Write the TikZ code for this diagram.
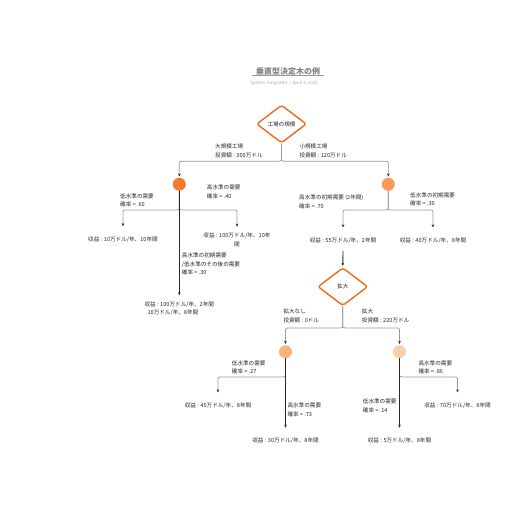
\documentclass[tikz,border=0pt]{standalone}
\usepackage{fontspec}
\setmainfont{Noto Sans CJK JP}
\usetikzlibrary{shapes.geometric,arrows.meta}
\definecolor{orangeline}{HTML}{F26A1B}
\definecolor{cA}{HTML}{F47A2F}
\definecolor{cB}{HTML}{F99A55}
\definecolor{cC}{HTML}{FDB37C}
\definecolor{cD}{HTML}{FFCFA8}
\definecolor{grayline}{HTML}{9A9A9A}
\definecolor{darkline}{HTML}{2A2A2A}
\definecolor{titlegray}{HTML}{858585}
\definecolor{subgray}{HTML}{AAAAAA}
\begin{document}
\begin{tikzpicture}[x=1pt,y=-1pt,
  every node/.style={font=\fontsize{5.6}{8.4}\selectfont, text=darkline},
  decision/.style={diamond, draw=orangeline, line width=1.4pt, fill=white, rounded corners=2.5pt,
     minimum width=50pt, minimum height=38pt, aspect=1.32, inner sep=0pt},
  chance/.style={circle, minimum size=13pt, inner sep=0pt},
  lbl/.style={anchor=west, align=left, inner sep=0pt},
  rev/.style={align=center, minimum height=20pt, inner sep=0pt},
  tip/.style={-{Stealth[length=3.2pt,width=2.6pt,color=darkline]}},
  gline/.style={tip, draw=grayline, line width=0.8pt, rounded corners=2pt, shorten >=3pt},
  dline/.style={tip, draw=darkline, line width=0.9pt, shorten >=3pt}
]
\useasboundingbox[fill=white] (0,0) rectangle (516,516);

% title
\node[font=\fontsize{8}{9}\selectfont\bfseries, text=titlegray] (title) at (288,71.5) {垂直型決定木の例};
\draw[grayline, line width=0.7pt] (252,75.8) -- (324,75.8);
\node[font=\fontsize{4.4}{5}\selectfont, text=subgray] (sub) at (284,83.3) {System Templates \ | \ April 4, 2025};

% decision and chance nodes
\node[decision] (d1) at (281.5,124) {工場の規模};
\node[chance, fill=cA] (c1) at (179.3,184.3) {};
\node[chance, fill=cB] (c2) at (388.3,184.3) {};
\node[decision] (d2) at (342.8,286.7) {拡大};
\node[chance, fill=cC] (c3) at (285.5,351.7) {};
\node[chance, fill=cD] (c4) at (399.5,351.7) {};

% revenue nodes
\node[rev] (r1) at (123,239.5) {収益 : 10万ドル/年、10年間};
\node[rev] (r2) at (237,240) {収益 : 100万ドル/年、10年\\間};
\node[rev] (r3) at (343,240.7) {収益 : 55万ドル/年、2年間};
\node[rev] (r4) at (433,240.7) {収益 : 40万ドル/年、8年間};
\node[rev, align=left] (r5) at (179.3,308.5) {収益 : 100万ドル/年、2年間\\\hspace{3pt}10万ドル/年、8年間};
\node[rev] (r6) at (218,405.7) {収益 : 40万ドル/年、8年間};
\node[rev] (r7) at (457.5,405.7) {収益 : 70万ドル/年、8年間};
\node[rev] (r8) at (285.5,441) {収益 : 30万ドル/年、8年間};
\node[rev] (r9) at (399.5,441) {収益 : 5万ドル/年、8年間};

% labels
\node[lbl] (l1) at (215,150.8) {大規模工場\\投資額 : 300万ドル};
\node[lbl] (l2) at (299.3,150.8) {小規模工場\\投資額 : 120万ドル};
\node[lbl] (l3) at (120,200.2) {低水準の需要\\確率 = .60};
\node[lbl] (l4) at (206.7,191.7) {高水準の需要\\確率 = .40};
\node[lbl] (l5) at (181.7,264) {高水準の初期需要\\/低水準のその後の需要\\確率 = .30};
\node[lbl] (l6) at (299,201.7) {高水準の初期需要 (2年間)\\確率 = .70};
\node[lbl] (l7) at (410,199.2) {低水準の初期需要\\確率 = .30};
\node[lbl] (l8) at (283.3,315.8) {拡大なし\\投資額 : 0ドル};
\node[lbl] (l9) at (361.7,315.8) {拡大\\投資額 : 220万ドル};
\node[lbl] (l10) at (231.7,367.2) {低水準の需要\\確率 = .27};
\node[lbl] (l11) at (287.3,410) {高水準の需要\\確率 = .73};
\node[lbl] (l12) at (418.3,367.5) {高水準の需要\\確率 = .86};
\node[lbl] (l13) at (362.7,405.8) {低水準の需要\\確率 = .14};

% connectors
\draw[gline, shorten >=1pt] (d1.south) -- ++(0,17.5) -| (c1.north);
\draw[gline, shorten >=1pt] (d1.south) -- ++(0,17.5) -| (c2.north);
\draw[gline] (c1.south) -- ++(0,19) -| (r1.north);
\draw[gline] (c1.south) -- ++(0,19) -| (r2.north);
\draw[dline] (c1.south) -- (r5.north);
\draw[gline] (c2.south) -- ++(0,19) -| (r3.north);
\draw[gline] (c2.south) -- ++(0,19) -| (r4.north);
\draw[dline, shorten >=1pt] (r3.south) -- (d2.north);
\draw[gline, shorten >=1pt] (d2.south) -- ++(0,21.5) -| (c3.north);
\draw[gline, shorten >=1pt] (d2.south) -- ++(0,21.5) -| (c4.north);
\draw[gline] (c3.south) -- ++(0,18.5) -| (r6.north);
\draw[dline] (c3.south) -- (r8.north);
\draw[gline] (c4.south) -- ++(0,18.5) -| (r7.north);
\draw[dline] (c4.south) -- (r9.north);
\end{tikzpicture}
\end{document}
